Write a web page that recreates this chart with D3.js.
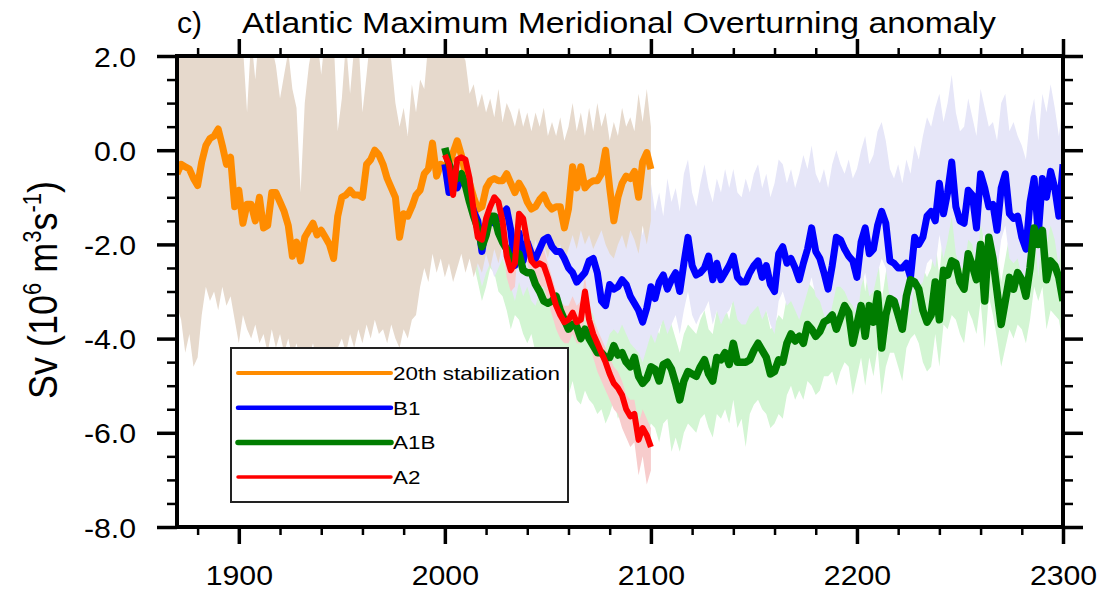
<!DOCTYPE html>
<html>
<head>
<meta charset="utf-8">
<script src="https://cdn.jsdelivr.net/npm/d3@7"></script>
<style>
body { margin: 0; background: #fff; }
text { font-family: "Liberation Sans", Arial, Helvetica, sans-serif; fill: #000; }
</style>
</head>
<body>
<svg id="chart" width="1106" height="591"></svg>
<script>
// sampling grids (every 2 years)
const stabYears = d3.range(1870, 2101, 2)
const scenYears = d3.range(2000, 2301, 2)
const a2Years = d3.range(2000, 2101, 2)

// 20th century stabilization run, ensemble mean and spread
const stabMean = [-0.5,-0.3,-0.35,-0.4,-0.6,-0.75,-0.25,0.1,0.25,0.3,0.45,0.1,-0.3,-0.15,-1.2,-0.85,-1.55,-1.15,-1.15,-1.5,
  -1.0,-1.65,-1.6,-0.9,-0.9,-1.1,-1.3,-1.6,-2.25,-1.95,-2.35,-1.85,-1.7,-1.55,
  -1.8,-1.7,-1.85,-2.0,-2.3,-1.4,-1.0,-0.95,-0.85,-0.95,-0.95,-1.0,-0.3,-0.2,0.0,-0.1,-0.3,-0.6,-0.8,-1.0,
  -1.85,-1.35,-1.4,-1.2,-0.95,-0.85,-0.5,-0.4,0.15,-0.55,-0.3,-0.35,-0.3,-0.05,0.2,-0.1,
  -0.5,-0.7,-1.0,-1.25,-1.2,-0.8,-0.65,-0.6,-0.65,-0.65,-0.5,-0.7,-0.9,-0.7,-0.85,-1.1,-1.25,-1.2,-1.05,-0.95,
  -1.15,-1.25,-1.2,-1.2,-1.65,-1.25,-0.35,-0.8,-0.35,-0.8,-0.7,-0.65,-0.65,-0.5,0.0,-0.8,-1.5,-1.0,-0.7,-0.55,
  -0.6,-0.45,-1.0,-0.25,-0.05,-0.4]
const stabHi = [2.6,2.4,2.8,2.5,2.7,2.3,2.6,2.9,2.4,2.7, 2.5,2.8,2.4,2.6,2.3,2.5,2.2,0.8,2.4,1.5,
  2.6,2.3,2.5,2.2,1.8,1.1,1.6,2.1,1.3,0.9, -0.9,1.0,1.8,2.3,2.4,1.6,2.5,2.1,2.4,0.4,
  1.1,2.3,1.2,2.2,2.4,0.8,1.6,2.5,2.3,2.6, 2.2,2.4,1.9,1.0,0.5,0.9,0.3,1.4,0.8,1.5,
  1.3,2.3,2.5,2.1,2.6,2.4,2.2,2.5,2.3,2.1, 1.9,1.2,1.4,0.9,1.2,0.8,1.1,0.7,1.3,0.6,
  1.0,0.8,0.5,0.9,0.5,0.8,0.4,0.8,0.5,0.9, 0.3,0.6,0.3,0.7,0.2,0.5,1.0,0.4,0.8,0.3,
  0.9,0.4,1.0,0.5,0.8,0.2,0.6,0.3,0.9,0.5, 0.7,0.4,1.2,0.6,1.3,0.5]
const stabLo = [-3.3,-3.6,-4.3,-3.9,-4.6,-4.4,-3.5,-2.9,-3.2,-3.0, -3.4,-2.9,-3.3,-3.1,-3.6,-4.1,-3.5,-3.8,-4.0,-3.7,
  -4.1,-3.9,-4.3,-3.8,-4.2,-3.9,-4.3,-4.0,-4.4,-4.1, -4.5,-4.2,-4.4,-4.1,-4.5,-4.2,-4.6,-4.4,-4.7,-4.2,
  -4.0,-4.3,-3.9,-4.2,-3.8,-4.1,-3.7,-4.0,-3.6,-3.9, -3.8,-4.1,-3.7,-4.0,-4.2,-3.8,-4.0,-3.6,-3.5,-2.9,
  -2.5,-2.8,-2.2,-2.6,-2.3,-2.7,-2.4,-2.8,-2.5,-2.2, -2.6,-2.3,-2.7,-2.4,-2.6,-2.2,-2.5,-2.1,-2.4,-2.0,
  -2.3,-2.1,-2.5,-2.2,-2.4,-2.0,-2.3,-1.9,-2.2,-2.0, -2.3,-1.9,-2.2,-2.0,-2.4,-2.1,-1.8,-2.1,-1.7,-2.0,
  -1.8,-2.1,-1.9,-1.7,-2.0,-2.2,-2.3,-2.0,-1.8,-2.1, -1.7,-1.9,-2.2,-1.6,-2.0,-1.5]

// B1 scenario
const b1Mean = [-0.3,-0.9,-0.55,-0.8,-0.6,-0.7,-1.0,-1.3,-1.5,-2.15, -1.6,-1.45,-1.55,-1.45,-1.35,-1.25,-1.7,-2.45,-1.75,-2.35,
  -1.95,-2.2,-2.3,-2.1,-1.9,-1.85,-2.05,-2.15,-2.15,-2.3, -2.5,-2.6,-2.8,-2.7,-2.6,-2.35,-2.3,-2.6,-3.2,-3.3,
  -2.85,-2.95,-2.9,-2.75,-2.85,-3.1,-3.25,-3.4,-3.65,-3.35, -2.9,
  -3.15,-2.8,-2.65,-2.95,-2.75,-2.6,-3.0,-2.4,-1.85,-2.45, -2.65,-2.6,-2.5,-2.25,-2.75,-2.4,-2.75,-2.6,-2.45,-2.25,
  -2.7,-2.8,-2.8,-2.6,-2.45,-2.35,-2.7,-2.45,-2.85,-3.0, -2.2,-2.05,-2.4,-2.3,-2.5,-2.75,-2.4,-2.1,-1.65,-2.15,
  -2.3,-2.6,-2.95,-2.45,-1.85,-1.9,-2.1,-2.25,-2.35,-2.7,
  -1.95,-1.65,-2.2,-2.1,-1.6,-1.3,-1.55,-2.35,-2.4,-2.5, -2.5,-2.4,-2.7,-1.85,-2.0,-1.85,-1.4,-1.3,-1.5,-0.7,
  -1.35,-0.9,-0.25,-1.2,-1.5,-1.55,-0.85,-0.95,-1.65,-0.5, -0.8,-1.2,-1.15,-1.7,-0.8,-0.5,-1.35,-1.45,-1.4,-1.85,
  -2.1,-1.1,-0.6,-1.8,-0.6,-1.0,-0.45,-0.8,-1.4,-0.3]
const b1Hi = [-0.1,0.2,0.5,0.3,0.6,0.2,0.4,-0.2,0.1,-0.5, -0.2,0.1,-0.3,0.0,-0.4,-0.1,-0.5,-0.2,-0.6,-0.3,
  -0.1,-0.5,-0.2,-0.6,-0.3,0.0,-0.4,-0.7,-0.3,-0.6, -0.2,-0.5,-0.8,-0.4,-0.7,-0.3,-0.6,-0.2,-0.9,-0.5,
  -0.8,-0.4,-1.2,-0.9,-1.4,-1.1,-1.5,-1.3,-1.8,-1.2, -0.7,-1.3,-0.9,-1.4,-0.6,-1.1,-0.8,-1.3,-0.5,-0.2,
  -0.9,-1.2,-0.7,-0.3,-0.8,-1.1,-0.6,-0.9,-0.4,-0.8, -0.4,-0.9,-1.0,-0.6,-0.9,-0.5,-0.3,-0.8,-0.5,-1.0,
  -0.7,-0.2,-0.3,-0.7,-0.4,-0.8,-0.5,-0.1,-0.4,0.1, -0.5,-0.7,-0.4,-0.8,-0.3,0.0,-0.3,-0.5,-0.2,-0.6,
  -0.4,0.0,0.3,-0.3,-0.1,0.4,0.6,0.2,-0.4,-0.6, -0.3,-0.7,-0.2,-0.5,0.1,-0.2,0.3,0.7,0.5,0.9,
  1.2,0.6,1.0,1.6,0.8,0.4,0.5,1.1,0.7,0.3, 1.3,0.9,0.5,0.6,0.2,1.0,1.2,0.4,0.6,0.3,
  0.1,-0.2,0.7,1.1,0.2,1.2,0.8,1.4,0.9,0.3, 1.0]
const b1Lo = [-0.8,-1.3,-1.1,-1.5,-1.2,-1.6,-1.9,-2.2,-2.5,-2.9, -2.6,-2.4,-2.7,-2.5,-2.3,-2.6,-2.9,-3.2,-2.8,-3.1,
  -2.9,-3.2,-3.3,-3.0,-2.9,-3.1,-3.3,-3.2,-3.4,-3.5, -3.6,-3.4,-3.8,-3.6,-3.5,-3.3,-3.5,-3.8,-4.1,-4.2,
  -3.9,-3.8,-3.9,-3.7,-3.9,-4.1,-4.2,-4.3,-4.5,-4.2, -3.9,-4.1,-3.8,-3.6,-3.9,-3.7,-3.5,-3.9,-3.4,-3.0,
  -3.5,-3.7,-3.5,-3.4,-3.2,-3.7,-3.4,-3.7,-3.5,-3.4, -3.2,-3.6,-3.7,-3.7,-3.5,-3.4,-3.3,-3.6,-3.4,-3.7,
  -3.9,-3.2,-3.0,-3.3,-3.2,-3.4,-3.6,-3.3,-3.0,-2.7, -3.1,-3.2,-3.5,-3.8,-3.3,-2.9,-2.9,-3.0,-3.2,-3.3,
  -3.6,-2.9,-2.6,-3.1,-3.0,-2.6,-2.3,-2.5,-3.2,-3.3, -3.4,-3.3,-3.2,-3.5,-2.8,-2.9,-2.8,-2.4,-2.3,-2.5,
  -1.8,-2.3,-1.9,-1.4,-2.2,-2.5,-2.5,-1.9,-2.0,-2.6, -1.6,-1.9,-2.2,-2.1,-2.6,-1.9,-1.6,-2.3,-2.4,-2.3,
  -2.7,-2.9,-2.1,-1.7,-2.7,-1.7,-2.0,-1.6,-1.9,-2.5, -1.5]

// A1B scenario
const a1bMean = [0.05,-0.3,-0.5,-0.6,-0.5,-0.75,-1.1,-1.4,-1.65,-2.05, -1.8,-1.4,-1.4,-1.75,-1.95,-2.1,-2.35,-2.25,-2.2,-2.55,
  -2.6,-2.6,-2.85,-3.0,-3.2,-3.25,-3.2,-3.1,-3.4,-3.6, -3.8,-3.7,-3.75,-4.0,-3.8,-4.0,-4.15,-4.3,-4.3,-4.4,
  -4.4,-4.15,-4.35,-4.3,-4.5,-4.6,-4.4,-4.8,-4.95,-4.85, -4.6,
  -4.65,-4.9,-4.55,-4.5,-4.65,-4.95,-5.3,-4.9,-4.7,-4.75, -4.8,-4.6,-4.45,-4.75,-4.9,-4.4,-4.45,-4.3,-4.55,-4.1,
  -4.5,-4.5,-4.5,-4.45,-4.25,-4.1,-4.25,-4.4,-4.75,-4.7, -4.45,-4.5,-4.1,-3.9,-4.05,-3.95,-4.1,-3.7,-3.8,-3.95,
  -3.85,-3.65,-3.6,-3.5,-3.8,-3.55,-3.3,-3.45,-4.1,-3.7,
  -3.3,-3.95,-3.3,-3.65,-3.05,-4.2,-3.5,-3.15,-3.2,-3.5, -3.8,-3.1,-2.75,-2.8,-2.95,-3.4,-3.65,-3.5,-2.8,-3.6,
  -2.55,-2.65,-2.35,-2.4,-2.8,-2.95,-2.2,-2.45,-2.75,-2.0, -3.2,-1.85,-2.3,-3.0,-3.7,-3.2,-2.7,-2.95,-2.6,-2.75,
  -3.1,-2.5,-1.65,-2.0,-1.7,-2.75,-2.35,-2.45,-2.7,-3.2]
const a1bHi = [0.3,0.1,-0.1,0.0,0.2,-0.2,-0.4,-0.7,-0.9,-1.2, -1.0,-0.6,-0.8,-1.0,-1.3,-1.4,-1.6,-1.4,-1.5,-1.7,
  -1.8,-1.7,-2.0,-2.2,-2.3,-2.4,-2.3,-2.2,-2.5,-2.7, -2.9,-2.8,-2.9,-3.1,-2.9,-3.0,-3.2,-3.4,-3.3,-3.5,
  -3.4,-3.2,-3.4,-3.3,-3.6,-3.7,-3.4,-3.8,-4.0,-3.9, -3.6,-3.7,-3.9,-3.5,-3.4,-3.7,-4.0,-4.3,-3.9,-3.7,
  -3.8,-3.9,-3.6,-3.4,-3.8,-3.9,-3.4,-3.5,-3.3,-3.6, -3.1,-3.5,-3.5,-3.6,-3.4,-3.2,-3.1,-3.3,-3.4,-3.8,
  -3.7,-3.5,-3.6,-3.1,-2.9,-3.1,-3.0,-3.2,-2.8,-2.9, -3.0,-2.9,-2.7,-2.6,-2.5,-2.9,-2.6,-2.3,-2.5,-3.1,
  -2.8,-2.3,-3.0,-2.4,-2.7,-2.1,-3.2,-2.6,-2.2,-2.3, -2.6,-2.9,-2.1,-1.8,-1.9,-2.0,-2.5,-2.7,-2.5,-1.9,
  -2.7,-1.6,-1.7,-1.4,-1.5,-1.9,-2.0,-1.3,-1.5,-1.8, -1.1,-2.3,-1.0,-1.4,-2.1,-2.8,-2.3,-1.8,-2.0,-1.7,
  -1.8,-2.2,-1.6,-0.8,-1.1,-0.8,-1.8,-1.4,-1.5,-1.8, -2.3]
const a1bLo = [-0.6,-1.0,-1.3,-1.4,-1.3,-1.7,-2.1,-2.4,-2.8,-3.2, -2.9,-2.5,-2.6,-3.0,-3.1,-3.4,-3.8,-3.5,-3.6,-3.9,
  -4.1,-3.9,-4.3,-4.4,-4.6,-4.5,-4.7,-4.4,-4.8,-5.0, -5.2,-4.9,-5.3,-5.4,-5.1,-5.3,-5.4,-5.6,-5.5,-5.8,
  -5.6,-5.3,-5.7,-5.5,-5.9,-6.0,-5.6,-6.0,-6.2,-6.1, -5.8,-5.9,-6.2,-5.8,-5.7,-6.4,-6.1,-6.4,-6.0,-5.8,
  -5.9,-6.0,-5.7,-5.6,-5.9,-6.1,-5.6,-5.7,-5.5,-5.8, -5.3,-5.9,-5.7,-6.3,-5.6,-5.4,-5.3,-5.5,-5.6,-5.9,
  -5.8,-5.6,-5.7,-5.2,-5.0,-5.3,-5.1,-5.3,-4.9,-5.0, -5.2,-5.1,-4.8,-4.8,-4.7,-5.0,-4.7,-4.5,-4.6,-5.2,
  -4.8,-4.4,-5.0,-4.4,-4.8,-4.2,-5.2,-4.6,-4.3,-4.3, -4.6,-4.9,-4.2,-4.0,-3.9,-4.1,-4.5,-4.7,-4.6,-3.9,
  -4.6,-3.7,-3.8,-3.5,-3.6,-3.9,-4.1,-3.4,-3.6,-3.9, -3.2,-4.2,-3.1,-3.5,-4.0,-4.6,-4.2,-3.8,-4.0,-3.7,
  -3.8,-4.1,-3.6,-2.9,-3.2,-2.9,-3.8,-3.4,-3.5,-3.6, -4.1]

// A2 scenario
const a2Mean = [-0.1,-0.3,-0.95,-0.2,-0.15,-0.2,-0.6,-1.3,-1.85,-1.9, -1.45,-1.2,-1.0,-1.1,-1.5,-2.25,-2.55,-2.4,-1.35,-1.45,
  -1.95,-2.35,-2.45,-2.4,-2.45,-2.7,-3.0,-3.3,-3.5,-3.65, -3.6,-3.45,-3.65,-3.6,-3.0,-3.6,-3.9,-4.1,-4.3,-4.5,
  -4.75,-4.95,-5.05,-5.2,-5.5,-5.65,-5.6,-6.15,-5.9,-6.05, -6.3]
const a2Hi = [0.2,0.0,-0.6,0.1,0.2,0.1,-0.3,-0.9,-1.5,-1.6, -1.1,-0.9,-0.7,-0.8,-1.2,-1.9,-2.2,-2.1,-1.0,-1.1,
  -1.6,-2.0,-2.1,-2.0,-2.1,-2.4,-2.7,-3.0,-3.2,-3.3, -3.3,-3.1,-3.3,-3.2,-2.7,-3.3,-3.6,-3.8,-4.0,-4.2,
  -4.4,-4.6,-4.7,-4.9,-5.2,-5.3,-5.3,-5.8,-5.5,-5.7, -5.9]
const a2Lo = [-0.5,-0.8,-1.4,-0.7,-0.6,-0.7,-1.1,-1.8,-2.3,-2.4, -2.0,-1.7,-1.5,-1.6,-2.0,-2.7,-3.0,-2.9,-1.8,-1.9,
  -2.4,-2.8,-2.9,-2.9,-2.9,-3.2,-3.5,-3.8,-4.0,-4.1, -4.1,-3.9,-4.1,-4.1,-3.5,-4.1,-4.4,-4.7,-4.9,-5.1,
  -5.3,-5.5,-5.6,-5.9,-6.1,-6.3,-6.2,-6.9,-6.5,-7.1, -6.8]

const xMajor = [1900, 2000, 2100, 2200, 2300]
const xMinor = [1880, 1920, 1940, 1960, 1980, 2020, 2040, 2060, 2080, 2120, 2140, 2160, 2180, 2220, 2240, 2260, 2280]
const yMajor = [-8, -6, -4, -2, 0, 2]
const yMinor = [-7.5, -7, -6.5, -5.5, -5, -4.5, -3.5, -3, -2.5, -1.5, -1, -0.5, 0.5, 1, 1.5]
const legendLabels = ["20th stabilization", "B1", "A1B", "A2"]

const svg = d3.select('#chart')
const plot = {left: 177, right: 1063, top: 56, bottom: 527}

const x = d3.scaleLinear().domain([1870, 2300]).range([plot.left, plot.right])
const y = d3.scaleLinear().domain([-8, 2]).range([plot.bottom, plot.top])

function zip(years, mean, hi, lo) {
    return years.map((yr, i) => ({year: yr, v: mean[i], hi: hi[i], lo: lo[i]}))
}
const stab = zip(stabYears, stabMean, stabHi, stabLo)
const b1 = zip(scenYears, b1Mean, b1Hi, b1Lo)
const a1b = zip(scenYears, a1bMean, a1bHi, a1bLo)
const a2 = zip(a2Years, a2Mean, a2Hi, a2Lo)

svg.append("clipPath").attr("id", "clip")
  .append("rect")
  .attr("x", plot.left).attr("y", plot.top)
  .attr("width", plot.right - plot.left).attr("height", plot.bottom - plot.top)

const body = svg.append("g").attr("clip-path", "url(#clip)")

const area = d3.area()
    .x(d => x(d.year))
    .y0(d => y(d.lo))
    .y1(d => y(d.hi))

const line = d3.line()
    .x(d => x(d.year))
    .y(d => y(d.v))

// spread bands
body.append("path").datum(a1b).attr("d", area).attr("fill", "#d3f5d3")
body.append("path").datum(b1).attr("d", area).attr("fill", "#e6e6f8")
body.append("path").datum(a2).attr("d", area).attr("fill", "#f7cccc")
body.append("path").datum(stab).attr("d", area).attr("fill", "#e6d9cc")

// ensemble means
const series = [
    {data: stab, color: "#ff8c00", width: 7},
    {data: b1, color: "#0000ff", width: 7},
    {data: a1b, color: "#007d00", width: 7.5},
    {data: a2, color: "#ff0000", width: 6}
]
body.selectAll("path.mean")
  .data(series)
  .join("path")
  .attr("class", "mean")
  .attr("d", d => line(d.data))
  .attr("fill", "none")
  .attr("stroke", d => d.color)
  .attr("stroke-width", d => d.width)
  .attr("stroke-linejoin", "round")

// axes: ticks point outward on every side
function styleAxis(g, w) {
    g.select(".domain").remove()
    g.selectAll("line").attr("stroke", "#000").attr("stroke-width", w)
}
const fmt = d => d.toFixed(1)

svg.append("g").attr("transform", `translate(0,${plot.bottom})`)
  .call(d3.axisBottom(x).tickValues(xMinor).tickSize(8).tickFormat(""))
  .call(g => styleAxis(g, 2.5))
const xb = svg.append("g").attr("transform", `translate(0,${plot.bottom})`)
  .call(d3.axisBottom(x).tickValues(xMajor).tickSize(17).tickFormat(d3.format("d")))
  .call(g => styleAxis(g, 3.5))
xb.selectAll("text").attr("y", 58).attr("dy", null).style("font-size", "28px")

svg.append("g").attr("transform", `translate(0,${plot.top})`)
  .call(d3.axisTop(x).tickValues(xMinor).tickSize(8).tickFormat(""))
  .call(g => styleAxis(g, 2.5))
svg.append("g").attr("transform", `translate(0,${plot.top})`)
  .call(d3.axisTop(x).tickValues(xMajor).tickSize(17).tickFormat(""))
  .call(g => styleAxis(g, 3.5))

svg.append("g").attr("transform", `translate(${plot.left},0)`)
  .call(d3.axisLeft(y).tickValues(yMinor).tickSize(10).tickFormat(""))
  .call(g => styleAxis(g, 2.5))
const yl = svg.append("g").attr("transform", `translate(${plot.left},0)`)
  .call(d3.axisLeft(y).tickValues(yMajor).tickSize(20).tickPadding(21).tickFormat(fmt))
  .call(g => styleAxis(g, 3.5))
yl.selectAll("text").attr("dy", "0.36em").style("font-size", "28px")

svg.append("g").attr("transform", `translate(${plot.right},0)`)
  .call(d3.axisRight(y).tickValues(yMinor).tickSize(10).tickFormat(""))
  .call(g => styleAxis(g, 2.5))
svg.append("g").attr("transform", `translate(${plot.right},0)`)
  .call(d3.axisRight(y).tickValues(yMajor).tickSize(20).tickFormat(""))
  .call(g => styleAxis(g, 3.5))

// frame
svg.append("rect")
  .attr("x", plot.left).attr("y", plot.top)
  .attr("width", plot.right - plot.left).attr("height", plot.bottom - plot.top)
  .attr("fill", "none").attr("stroke", "#000").attr("stroke-width", 4)

// legend
const leg = svg.append("g")
leg.append("rect")
  .attr("x", 231).attr("y", 348).attr("width", 337).attr("height", 154)
  .attr("fill", "#fff").attr("stroke", "#222").attr("stroke-width", 2)
const legWidths = [4, 4.5, 5.5, 3.5]
const items = leg.selectAll("g.item")
  .data(series)
  .join("g")
  .attr("class", "item")
  .attr("transform", (d, i) => `translate(0,${373 + i * 34.7})`)
items.append("line")
  .attr("x1", 238).attr("x2", 391)
  .attr("stroke", d => d.color)
  .attr("stroke-width", (d, i) => legWidths[i])
  .attr("stroke-linecap", "round")
const legText = items.append("text")
  .attr("x", 393).attr("dy", "0.36em")
  .style("font-size", "19px")
  .text((d, i) => legendLabels[i])

// titles
svg.append("text").attr("x", 177).attr("y", 33).style("font-size", "30px").text("c)")
svg.append("text").attr("x", 242).attr("y", 33).style("font-size", "30px")
  .attr("textLength", 754).attr("lengthAdjust", "spacingAndGlyphs")
  .text("Atlantic Maximum Meridional Overturning anomaly")

const ylab = svg.append("text")
  .attr("transform", "translate(57,290) scale(1.15,1) rotate(-90)")
  .attr("text-anchor", "middle")
  .style("font-size", "36px")
ylab.append("tspan").text("Sv (10")
ylab.append("tspan").attr("dy", -14).style("font-size", "22px").text("6")
ylab.append("tspan").attr("dy", 14).text(" m")
ylab.append("tspan").attr("dy", -14).style("font-size", "22px").text("3")
ylab.append("tspan").attr("dy", 14).text("s")
ylab.append("tspan").attr("dy", -14).style("font-size", "22px").text("-1")
ylab.append("tspan").attr("dy", 14).text(")")

// the source figure is a bit wider than tall, stretch horizontal text to match
function stretch(sel, k) {
    sel.each(function() {
        const w = this.getComputedTextLength()
        d3.select(this).attr("textLength", w * k).attr("lengthAdjust", "spacingAndGlyphs")
    })
}
stretch(xb.selectAll("text"), 1.08)
stretch(yl.selectAll("text"), 1.08)
stretch(legText, 1.18)
</script>
</body>
</html>
